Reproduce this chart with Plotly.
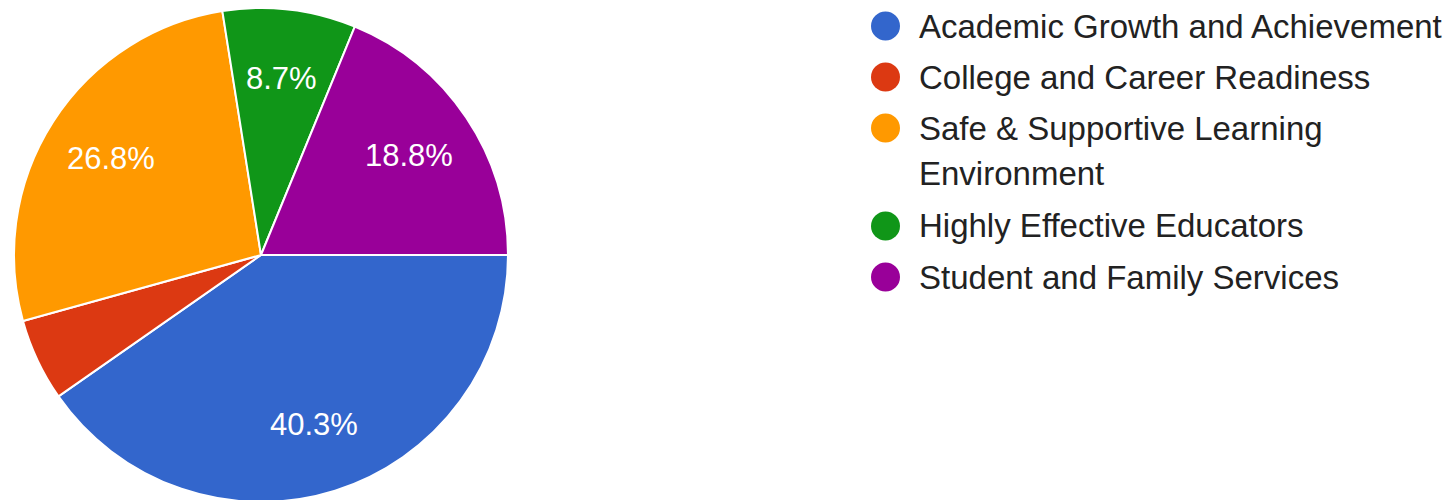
import math
import plotly.graph_objects as go

labels = ["Academic Growth and Achievement", "College and Career Readiness",
          "Safe & Supportive Learning Environment", "Highly Effective Educators",
          "Student and Family Services"]
legend_lines = [["Academic Growth and Achievement"], ["College and Career Readiness"],
                ["Safe & Supportive Learning", "Environment"], ["Highly Effective Educators"],
                ["Student and Family Services"]]
values = [40.3, 5.4, 26.8, 8.7, 18.8]
colors = ["#3366cc", "#dc3912", "#ff9900", "#109618", "#990099"]
show_label = [True, False, True, True, True]

W, H = 1454, 500
FONT = "Arial, 'Liberation Sans', sans-serif"

# pie geometry (px, figure coords)
CX, CY, R = 253, 247, 247
START = 90  # degrees clockwise from 12 o'clock

fig = go.Figure()
fig.add_trace(go.Pie(
    labels=labels, values=values, sort=False, direction="clockwise", rotation=START,
    marker=dict(colors=colors, line=dict(color="white", width=2)),
    textinfo="none",
    domain=dict(x=[(CX - R) / W, (CX + R) / W], y=[1 - (CY + R) / H, 1 - (CY - R) / H]),
    showlegend=False, hoverinfo="label+percent",
))

annotations = []
shapes = []

# slice percentage labels
total = sum(values)
cum = 0.0
for v, show in zip(values, show_label):
    mid = START + 360.0 * (cum + v / 2) / total
    cum += v
    if not show:
        continue
    t = math.radians(mid)
    rr = 0.72 * R
    px = CX + rr * math.sin(t)
    py = CY - rr * math.cos(t)
    annotations.append(dict(xref="paper", yref="paper", x=px / W, y=1 - py / H,
                            xanchor="center", yanchor="middle", showarrow=False,
                            text=f"{100 * v / total:.1f}%",
                            font=dict(size=31, color="white", family=FONT)))

# custom legend (circles + labels)
row_y = [18, 69, 120, 218, 269]
line_gap = 45
r = 14.5
cx = 877.5
for ly, lines, col in zip(row_y, legend_lines, colors):
    shapes.append(dict(type="circle", xref="paper", yref="paper",
                       x0=(cx - r) / W, x1=(cx + r) / W,
                       y0=1 - (ly + r) / H, y1=1 - (ly - r) / H,
                       fillcolor=col, line=dict(width=0)))
    for k, txt in enumerate(lines):
        yy = ly + k * line_gap
        annotations.append(dict(xref="paper", yref="paper", x=909 / W, y=1 - yy / H,
                                xanchor="left", yanchor="middle", text=txt, showarrow=False,
                                align="left", font=dict(size=33, color="#222222", family=FONT)))

fig.update_layout(
    width=W, height=H, margin=dict(l=0, r=0, t=0, b=0),
    paper_bgcolor="white", plot_bgcolor="white",
    shapes=shapes, annotations=annotations,
)
fig.write_html("out.html")
